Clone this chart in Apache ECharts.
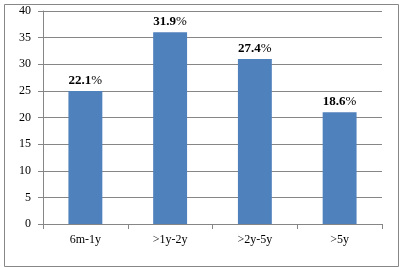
<!DOCTYPE html>
<html><head><meta charset="utf-8">
<script src="https://cdn.jsdelivr.net/npm/echarts@6/dist/echarts.min.js"></script>
<style>html,body{margin:0;padding:0;background:#fff}#c{width:399px;height:267px;}</style>
</head><body><div id="c"></div>
<script>
const categories = ['6m-1y', '>1y-2y', '>2y-5y', '>5y'];
const values = [25, 36, 31, 21];
const labelTexts = ['22.1', '31.9', '27.4', '18.6'];
const yTicks = { min: 0, max: 40, interval: 5 };

const chart = echarts.init(document.getElementById('c'));
chart.setOption({
  animation: false,
  backgroundColor: '#fff',
  graphic: [{
    type: 'rect', left: 2, top: 2,
    shape: { width: 394, height: 262 },
    style: { fill: 'none', stroke: '#878787', lineWidth: 1 }
  }],
  grid: { left: 43, right: 17, top: 11, bottom: 43 },
  xAxis: {
    type: 'category', data: categories,
    axisLine: { lineStyle: { color: '#868686', width: 1 } },
    axisTick: { show: true, length: 5, lineStyle: { color: '#868686' } },
    axisLabel: { color: '#000', fontFamily: 'Liberation Serif', fontSize: 12, margin: 10 }
  },
  yAxis: {
    type: 'value', min: yTicks.min, max: yTicks.max, interval: yTicks.interval,
    axisLine: { show: true, lineStyle: { color: '#868686', width: 1 } },
    axisTick: { show: true, length: 5, lineStyle: { color: '#868686' } },
    axisLabel: { color: '#000', fontFamily: 'Liberation Serif', fontSize: 12, margin: 12 },
    splitLine: { lineStyle: { color: '#868686', width: 1 } }
  },
  series: [{
    type: 'bar',
    data: values,
    barWidth: '40%',
    itemStyle: { color: '#4f81bd' },
    label: {
      show: true, position: 'top', distance: 4,
      formatter: p => '{b|' + labelTexts[p.dataIndex] + '}{n|%}',
      rich: {
        b: { fontFamily: 'Liberation Serif', fontWeight: 'bold', fontSize: 13, color: '#000' },
        n: { fontFamily: 'Liberation Serif', fontSize: 13, color: '#000' }
      }
    }
  }]
});
</script></body></html>
